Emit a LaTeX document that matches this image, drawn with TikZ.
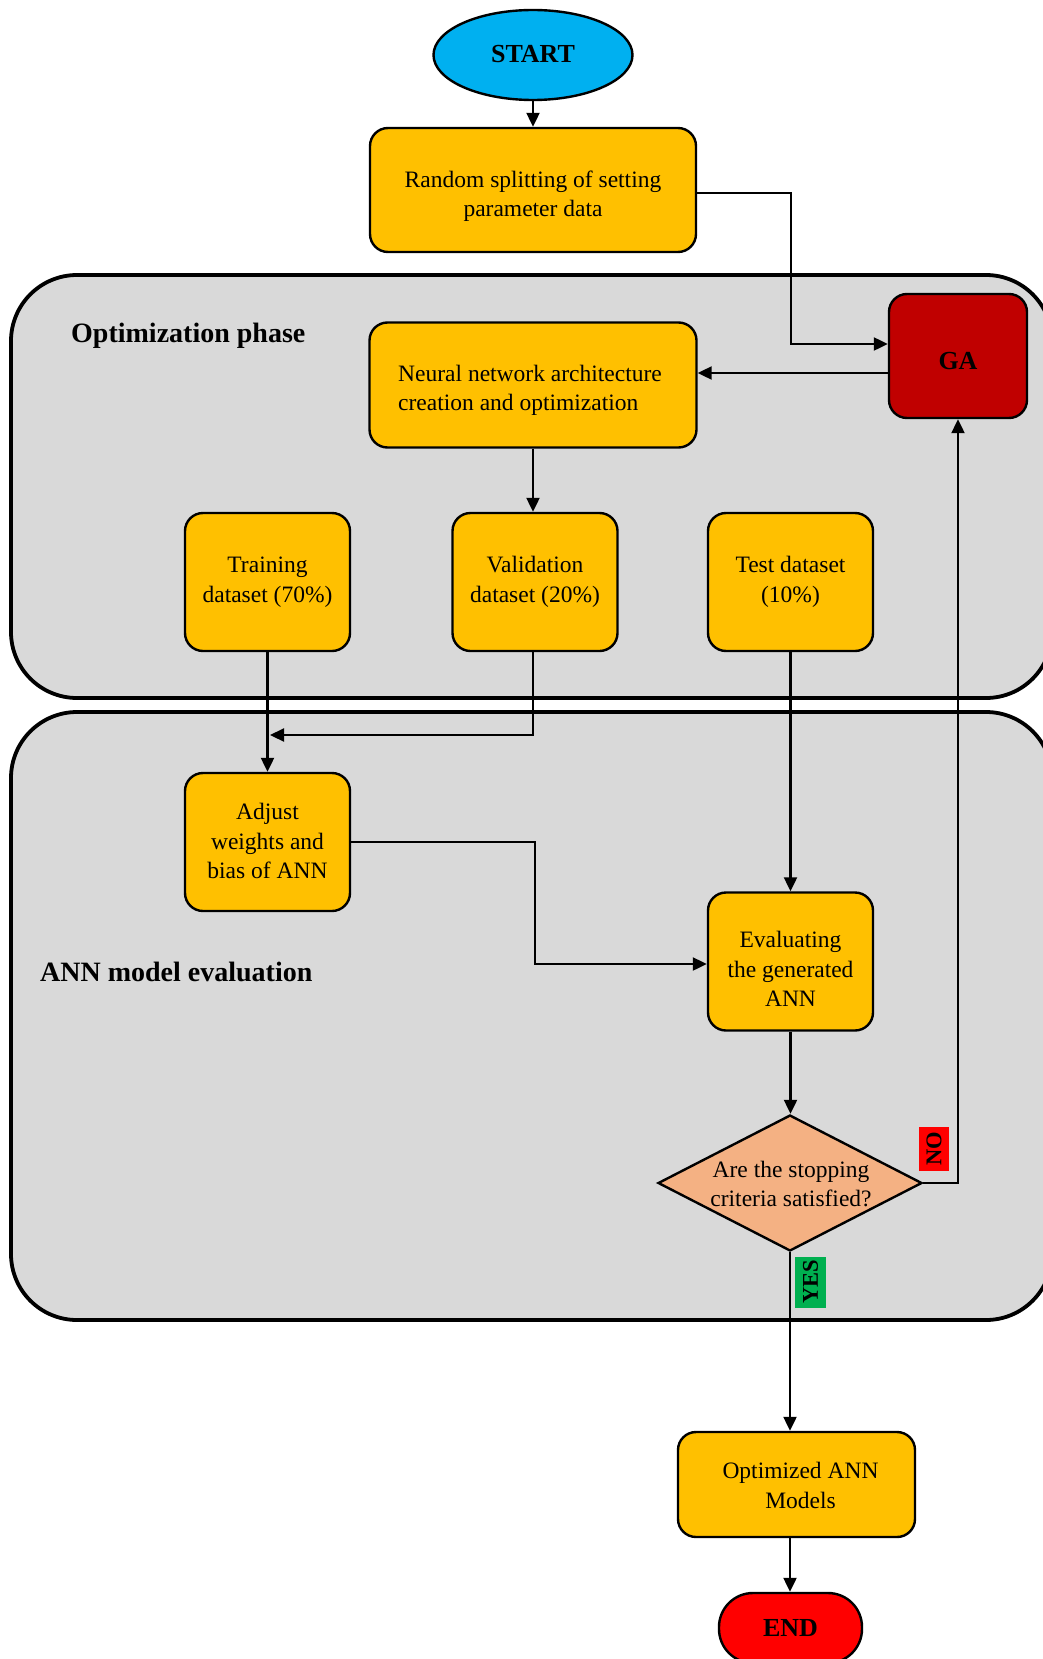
\documentclass[tikz,border=0pt]{standalone}
\usepackage{fontspec}
\setmainfont{Liberation Serif}
\usetikzlibrary{shapes.geometric,arrows.meta,calc}
\definecolor{boxorange}{HTML}{FFC000}
\definecolor{startblue}{HTML}{00B0F0}
\definecolor{gared}{HTML}{C00000}
\definecolor{endred}{HTML}{FF0000}
\definecolor{diafill}{HTML}{F4B183}
\definecolor{panelgray}{HTML}{D9D9D9}
\definecolor{yesgreen}{HTML}{00B050}
% lower the visible text by #1 inside a fixed-size node
\newcommand{\lowtext}[2]{\raisebox{0pt}[\dimexpr\height+2\dimexpr#1\relax\relax][\depth]{\begin{tabular}{@{}c@{}}#2\end{tabular}}}
\newcommand{\lowtextl}[2]{\raisebox{0pt}[\dimexpr\height+2\dimexpr#1\relax\relax][\depth]{\begin{tabular}{@{}l@{}}#2\end{tabular}}}
\tikzset{
  panel/.style={draw=black, fill=panelgray, line width=3.8pt, rounded corners=66pt},
  box/.style={draw=black, fill=boxorange, line width=2.4pt, rounded corners=18pt,
    align=center, inner sep=0pt, font=\fontsize{23.5}{29.5}\selectfont},
  arr/.style={draw=black, line width=2.2pt, -{Triangle[length=14pt,width=13pt]}},
  phase/.style={font=\fontsize{28}{32}\selectfont\bfseries, inner sep=0pt},
  lbl/.style={font=\fontsize{22.5}{24}\selectfont\bfseries, inner sep=0pt, rotate=90}
}
\begin{document}
\begin{tikzpicture}[x=1pt,y=-1pt]
\useasboundingbox (0,0) rectangle (1043,1659);
\clip (0,0) rectangle (1043,1659);
\fill[white] (0,0) rectangle (1043,1659);
% panels
\draw[panel] (11,275) rectangle (1052,698);
\draw[panel] (11,712) rectangle (1052,1320);
\node[phase, anchor=base west] (optphase) at (71,342) {Optimization phase};
\node[phase, anchor=base west] (annphase) at (40,981) {ANN model evaluation};
% nodes
\node[ellipse, draw=black, fill=startblue, line width=2.4pt, minimum width=199pt, minimum height=90pt, inner sep=0pt,
  font=\fontsize{26}{30}\selectfont\bfseries] (start) at (533,55) {\raisebox{0pt}[\height][\dimexpr\depth+2pt\relax]{START}};
\node[box, minimum width=326pt, minimum height=124pt] (rand) at (533,190) {\lowtext{6pt}{Random splitting of setting\\parameter data}};
\node[box, minimum width=327pt, minimum height=125pt] (nn) at (533,385) {\hspace*{-6pt}\lowtextl{5pt}{Neural network architecture\\creation and optimization}};
\node[box, fill=gared, minimum width=138pt, minimum height=124pt, font=\fontsize{26}{30}\selectfont\bfseries] (ga) at (958,356) {\lowtext{7pt}{GA}};
\node[box, minimum width=165pt, minimum height=138pt] (train) at (267.5,582) {Training\\dataset (70\%)};
\node[box, minimum width=165pt, minimum height=138pt] (val) at (535,582) {Validation\\dataset (20\%)};
\node[box, minimum width=165pt, minimum height=138pt] (test) at (790.5,582) {Test dataset\\(10\%)};
\node[box, minimum width=165pt, minimum height=138pt] (adj) at (267.5,842) {\lowtext{1.5pt}{Adjust\\weights and\\bias of ANN}};
\node[box, minimum width=165pt, minimum height=138pt] (eval) at (790.5,961.5) {\lowtext{10pt}{Evaluating\\the generated\\ANN}};
\node[diamond, draw=black, fill=diafill, line width=2.4pt, minimum width=264pt, minimum height=136pt, inner sep=0pt, aspect=1.94] (dq) at (790,1183) {};
\node[align=center, font=\fontsize{23.5}{29.5}\selectfont, inner sep=0pt] (dqtext) at (791,1184) {Are the stopping\\criteria satisfied?};
\node[box, minimum width=237pt, minimum height=105pt] (opt) at (796.5,1484.5) {\hspace*{8pt}\lowtext{3pt}{Optimized ANN\\Models}};
\node[box, fill=endred, rounded corners=34pt, minimum width=143pt, minimum height=70pt, font=\fontsize{26}{30}\selectfont\bfseries] (end) at (790.5,1628) {END};
% labels
\node[lbl, fill=endred, minimum width=44pt, minimum height=30pt] (no) at (934,1149) {NO};
\node[lbl, fill=yesgreen, minimum width=51pt, minimum height=31pt] (yes) at (810.5,1282) {YES};
% connectors
\coordinate (c1) at (791,344);
\coordinate (c2) at (535,964);
\coordinate (c3) at (267,735);
\draw[arr] (start.south) -- (start.south |- rand.north);
\draw[arr] ($(rand.east)+(0,3)$) -| (c1) -- (c1 -| ga.west);
\draw[arr] (ga.west |- 0,373) -- (nn.east |- 0,373);
\draw[arr] (nn.south) -- (nn.south |- val.north);
\draw[arr] (train.south) -- (adj.north);
\draw[arr] (val.south -| nn.south) |- ($(c3)+(3,0)$);
\draw[arr] (test.south) -- (eval.north);
\draw[arr] (adj.east) -| (c2) -- (c2 -| eval.west);
\draw[arr] (eval.south) -- (eval.south |- dq.north);
\draw[arr] (dq.east) -| (ga.south);
\draw[arr] (dq.south) -- (dq.south |- opt.north);
\draw[arr] (opt.south -| dq.south) -- (dq.south |- end.north);
\end{tikzpicture}
\end{document}
